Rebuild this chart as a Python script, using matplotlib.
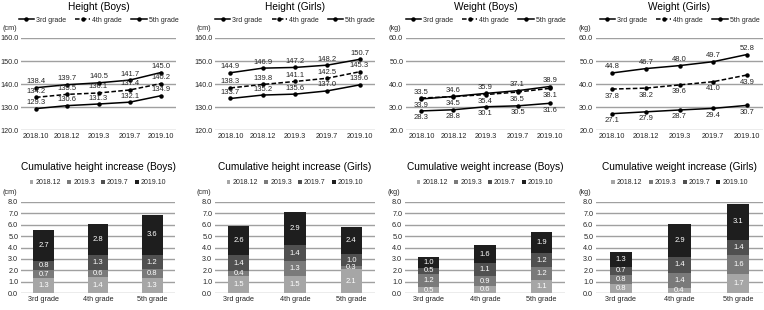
import matplotlib
matplotlib.use("Agg")
import matplotlib.pyplot as plt
from matplotlib.patches import Patch

plt.rcParams['font.family'] = ['Liberation Sans', 'DejaVu Sans']

dates = ["2018.10", "2018.12", "2019.3", "2019.7", "2019.10"]
grades = ["3rd grade", "4th grade", "5th grade"]
periods = ["2018.12", "2019.3", "2019.7", "2019.10"]

# Line chart data
height_boys_3 = [129.3, 130.6, 131.3, 132.1, 134.9]
height_boys_4 = [134.2, 135.5, 136.1, 137.4, 140.2]
height_boys_5 = [138.4, 139.7, 140.5, 141.7, 145.0]

height_girls_3 = [133.7, 135.2, 135.6, 137.0, 139.6]
height_girls_4 = [138.3, 139.8, 141.1, 142.5, 145.3]
height_girls_5 = [144.9, 146.9, 147.2, 148.2, 150.7]

weight_boys_3 = [28.3, 28.8, 30.1, 30.5, 31.6]
weight_boys_4 = [33.9, 34.5, 35.4, 36.5, 38.1]
weight_boys_5 = [33.5, 34.6, 35.9, 37.1, 38.9]

weight_girls_3 = [27.1, 27.9, 28.7, 29.4, 30.7]
weight_girls_4 = [37.8, 38.2, 39.6, 41.0, 43.9]
weight_girls_5 = [44.8, 46.7, 48.0, 49.7, 52.8]

# Cumulative increase data: values per period for each grade
cum_height_boys = {"2018.12": [1.3, 1.4, 1.3], "2019.3": [0.7, 0.6, 0.8],
                   "2019.7": [0.8, 1.3, 1.2], "2019.10": [2.7, 2.8, 3.6]}
cum_height_girls = {"2018.12": [1.5, 1.5, 2.1], "2019.3": [0.4, 1.3, 0.3],
                    "2019.7": [1.4, 1.4, 1.0], "2019.10": [2.6, 2.9, 2.4]}
cum_weight_boys = {"2018.12": [0.5, 0.6, 1.1], "2019.3": [1.2, 0.9, 1.2],
                   "2019.7": [0.5, 1.1, 1.2], "2019.10": [1.0, 1.6, 1.9]}
cum_weight_girls = {"2018.12": [0.8, 0.4, 1.7], "2019.3": [0.8, 1.4, 1.6],
                    "2019.7": [0.7, 1.4, 1.4], "2019.10": [1.3, 2.9, 3.1]}

W, H = 764, 310
fig = plt.figure(figsize=(W / 100, H / 100), dpi=100)

def px_axes(x0, y0, x1, y1):
    return fig.add_axes([x0 / W, 1 - y1 / H, (x1 - x0) / W, (y1 - y0) / H])

GRID = '#a0a0a0'
TXT = '#262626'
FS_TICK = 5.2
FS_LAB = 5.5
FS_TITLE = 7.3
FS_LEG = 5.0

def style_axes(ax):
    for s in ax.spines.values():
        s.set_visible(False)
    ax.tick_params(length=0, labelsize=FS_TICK, colors=TXT, pad=2)
    ax.yaxis.grid(True, color=GRID, lw=1.0)
    ax.set_axisbelow(True)

def line_panel(box, title, unit, ylim, yticks, s3, s4, s5, pos3, pos4, pos5):
    x0, y0, x1, y1 = box
    ax = px_axes(x0, y0, x1, y1)
    style_axes(ax)
    xs = list(range(len(dates)))
    l3, = ax.plot(xs, s3, color='black', lw=1.1, marker='o', ms=2.2, label=grades[0])
    l4, = ax.plot(xs, s4, color='black', lw=1.1, ls=(0, (3, 1.5)), marker='o', ms=2.2, label=grades[1])
    l5, = ax.plot(xs, s5, color='black', lw=1.1, marker='o', ms=2.2, label=grades[2])
    for ser, pos in ((s3, pos3), (s4, pos4), (s5, pos5)):
        for x, v in zip(xs, ser):
            off = 1.8 if pos == 'above' else -2.5
            ax.annotate(f"{v:.1f}", (x, v), xytext=(0, off), textcoords='offset points',
                        ha='center', va='bottom' if pos == 'above' else 'top',
                        fontsize=FS_LAB, color=TXT)
    ax.set_xlim(-0.48, 4.48)
    ax.set_ylim(*ylim)
    ax.set_yticks(yticks)
    ax.set_yticklabels([f"{t:.1f}" for t in yticks])
    ax.set_xticks(xs)
    ax.set_xticklabels(dates)
    cx = (x0 + x1) / 2
    fig.text(cx / W, 1 - 7 / H, title, ha='center', va='center', fontsize=FS_TITLE, color='black')
    fig.legend(handles=[l3, l4, l5], loc='center', bbox_to_anchor=(cx / W, 1 - 20 / H),
               ncol=3, frameon=False, fontsize=FS_LEG, handlelength=2.2, columnspacing=1.3,
               handletextpad=0.3, labelcolor=TXT, borderpad=0.1)
    fig.text((x0 - 11) / W, 1 - 28 / H, unit, ha='center', va='center', fontsize=FS_TICK, color=TXT)
    return ax

BAR_COLORS = ['#a6a6a6', '#7a7a7a', '#505050', '#1e1e1e']

def bar_panel(box, title, unit, data):
    x0, y0, x1, y1 = box
    ax = px_axes(x0, y0, x1, y1)
    style_axes(ax)
    xs = list(range(len(grades)))
    bottoms = [0.0] * len(grades)
    handles = []
    for p, c in zip(periods, BAR_COLORS):
        vals = data[p]
        ax.bar(xs, vals, width=0.38, bottom=bottoms, color=c, label=p, zorder=3)
        for x, v, b in zip(xs, vals, bottoms):
            ax.text(x, b + v / 2, f"{v:.1f}", ha='center', va='center',
                    fontsize=FS_LAB, color='white', zorder=4)
        bottoms = [b + v for b, v in zip(bottoms, vals)]
        handles.append(Patch(facecolor=c, label=p))
    ax.set_xlim(-0.42, 2.42)
    ax.set_ylim(0, 8)
    yt = [0, 1, 2, 3, 4, 5, 6, 7, 8]
    ax.set_yticks(yt)
    ax.set_yticklabels([f"{t:.1f}" for t in yt])
    ax.set_xticks(xs)
    ax.set_xticklabels(grades)
    cx = (x0 + x1) / 2
    fig.text(cx / W, 1 - 167 / H, title, ha='center', va='center', fontsize=FS_TITLE, color='black')
    fig.legend(handles=handles, loc='center', bbox_to_anchor=(cx / W, 1 - 183 / H),
               ncol=4, frameon=False, fontsize=FS_LEG, handlelength=0.55, handleheight=0.55,
               columnspacing=0.9, handletextpad=0.3, labelcolor=TXT, borderpad=0.1)
    fig.text((x0 - 11) / W, 1 - 192 / H, unit, ha='center', va='center', fontsize=FS_TICK, color=TXT)
    return ax

line_panel((21, 38, 176, 130), "Height (Boys)", "(cm)", (120, 160), [120, 130, 140, 150, 160],
           height_boys_3, height_boys_4, height_boys_5, 'above', 'above', 'above')
line_panel((215, 38, 375, 130), "Height (Girls)", "(cm)", (120, 160), [120, 130, 140, 150, 160],
           height_girls_3, height_girls_4, height_girls_5, 'above', 'above', 'above')
line_panel((406, 38, 565, 130), "Weight (Boys)", "(kg)", (20, 60), [20, 30, 40, 50, 60],
           weight_boys_3, weight_boys_4, weight_boys_5, 'below', 'below', 'above')
line_panel((596, 38, 763, 130), "Weight (Girls)", "(kg)", (20, 60), [20, 30, 40, 50, 60],
           weight_girls_3, weight_girls_4, weight_girls_5, 'below', 'below', 'above')

bar_panel((21, 202, 175, 293), "Cumulative height increase (Boys)", "(cm)", cum_height_boys)
bar_panel((215, 202, 375, 293), "Cumulative height increase (Girls)", "(cm)", cum_height_girls)
bar_panel((405, 202, 565, 293), "Cumulative weight increase (Boys)", "(kg)", cum_weight_boys)
bar_panel((596, 202, 763, 293), "Cumulative weight increase (Girls)", "(kg)", cum_weight_girls)

fig.savefig("out.png", dpi=100)
